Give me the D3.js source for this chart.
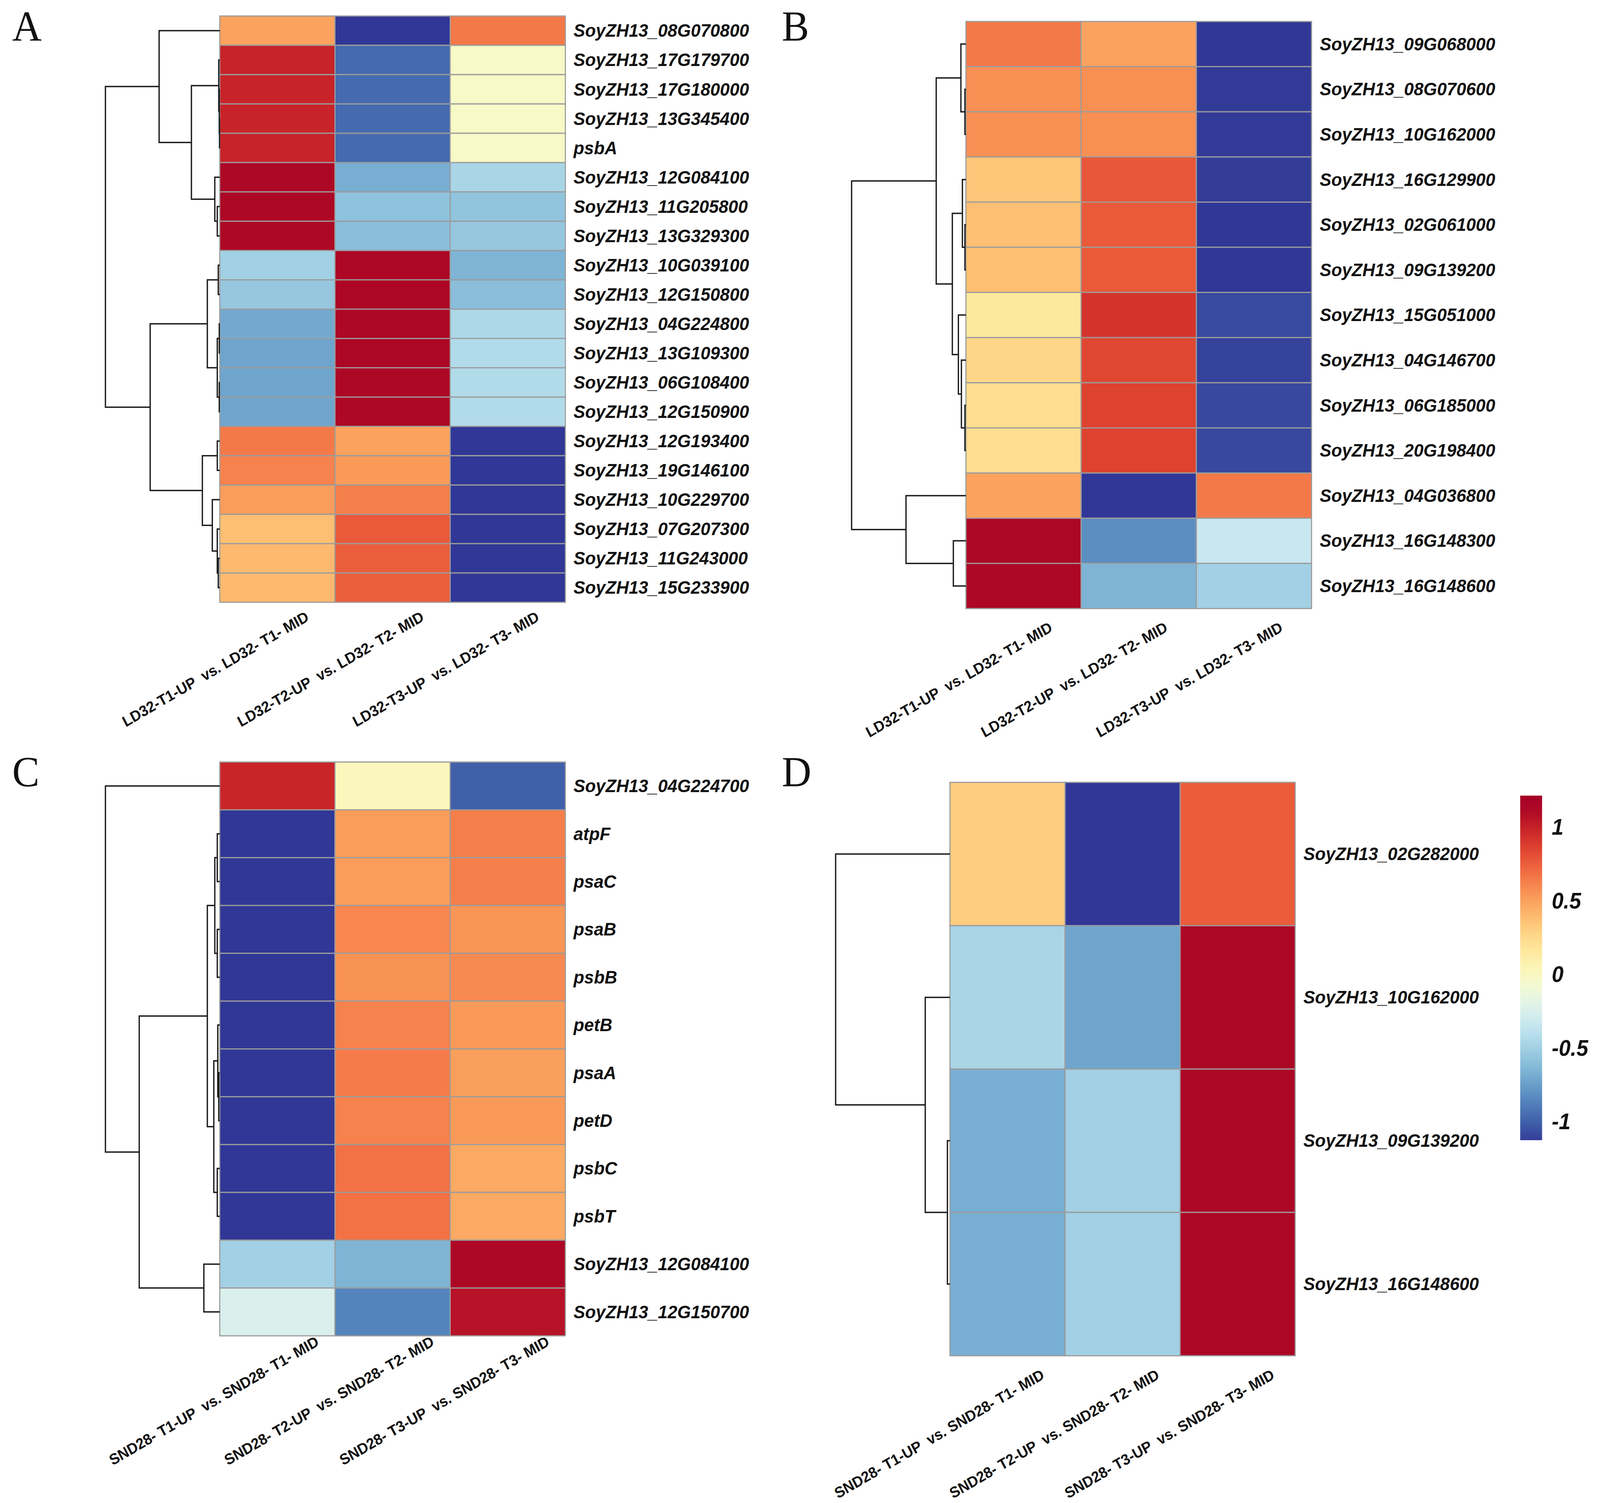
<!DOCTYPE html>
<html><head><meta charset="utf-8">
<script src="https://cdn.jsdelivr.net/npm/d3@7"></script>
<style>html,body{margin:0;padding:0;background:#fff;overflow:hidden;width:100%;height:100%} svg{display:block;width:100vw;height:100vh} text{white-space:pre}</style>
</head><body><svg id="chart"></svg>
<script>
// ---------- DATA ----------
const colsLD = ["LD32-T1-UP  vs. LD32- T1- MID","LD32-T2-UP  vs. LD32- T2- MID","LD32-T3-UP  vs. LD32- T3- MID"];
const colsSND = ["SND28- T1-UP  vs. SND28- T1- MID","SND28- T2-UP  vs. SND28- T2- MID","SND28- T3-UP  vs. SND28- T3- MID"];

const rowsA = ["SoyZH13_08G070800","SoyZH13_17G179700","SoyZH13_17G180000","SoyZH13_13G345400","psbA",
  "SoyZH13_12G084100","SoyZH13_11G205800","SoyZH13_13G329300","SoyZH13_10G039100","SoyZH13_12G150800",
  "SoyZH13_04G224800","SoyZH13_13G109300","SoyZH13_06G108400","SoyZH13_12G150900","SoyZH13_12G193400",
  "SoyZH13_19G146100","SoyZH13_10G229700","SoyZH13_07G207300","SoyZH13_11G243000","SoyZH13_15G233900"];
const valuesA = [
  [0.50,-1.15,0.65],[0.99,-0.96,-0.03],[0.99,-0.96,-0.03],[0.99,-0.96,-0.03],[0.99,-0.96,-0.03],
  [1.12,-0.68,-0.47],[1.12,-0.58,-0.57],[1.12,-0.60,-0.55],[-0.50,1.12,-0.65],[-0.55,1.12,-0.60],
  [-0.70,1.12,-0.45],[-0.72,1.12,-0.43],[-0.72,1.12,-0.43],[-0.72,1.12,-0.43],[0.65,0.50,-1.15],
  [0.62,0.53,-1.15],[0.52,0.63,-1.15],[0.38,0.77,-1.15],[0.40,0.75,-1.15],[0.40,0.75,-1.15]];
// hclust-style merges: negative = leaf (1-based row), positive = earlier merge; third = height
const mergesA = [
  [-4,-5,0.005],[-3,1,0.01],[-2,2,0.02],[-7,-8,0.05],[-6,4,0.10],[3,5,0.57],[-1,6,1.22],
  [-9,-10,0.03],[-11,-12,0.01],[-13,-14,0.01],[9,10,0.05],[8,11,0.25],
  [-15,-16,0.05],[-19,-20,0.03],[-18,14,0.05],[-17,15,0.15],[13,16,0.35],
  [12,17,1.40],[7,18,2.30]];

const rowsB = ["SoyZH13_09G068000","SoyZH13_08G070600","SoyZH13_10G162000","SoyZH13_16G129900","SoyZH13_02G061000",
  "SoyZH13_09G139200","SoyZH13_15G051000","SoyZH13_04G146700","SoyZH13_06G185000","SoyZH13_20G198400",
  "SoyZH13_04G036800","SoyZH13_16G148300","SoyZH13_16G148600"];
const valuesB = [
  [0.65,0.50,-1.15],[0.57,0.57,-1.14],[0.57,0.57,-1.14],[0.35,0.78,-1.13],[0.38,0.77,-1.15],
  [0.38,0.77,-1.15],[0.16,0.92,-1.08],[0.27,0.84,-1.11],[0.23,0.86,-1.09],[0.23,0.86,-1.09],
  [0.50,-1.15,0.65],[1.12,-0.82,-0.33],[1.12,-0.65,-0.50]];
const mergesB = [
  [-2,-3,0.02],[-1,1,0.10],[-5,-6,0.02],[-4,3,0.07],[-9,-10,0.02],[-8,5,0.09],[-7,6,0.15],
  [4,7,0.27],[2,8,0.59],[-12,-13,0.25],[-11,10,1.19],[9,11,2.27]];

const rowsC = ["SoyZH13_04G224700","atpF","psaC","psaB","psbB","petB","psaA","petD","psbC","psbT",
  "SoyZH13_12G084100","SoyZH13_12G150700"];
const valuesC = [
  [0.98,0.02,-1.00],[-1.15,0.52,0.63],[-1.15,0.52,0.63],[-1.15,0.60,0.55],[-1.15,0.56,0.59],
  [-1.15,0.62,0.53],[-1.15,0.64,0.51],[-1.15,0.62,0.53],[-1.15,0.68,0.47],[-1.15,0.68,0.47],
  [-0.50,-0.65,1.12],[-0.24,-0.86,1.07]];
const mergesC = [
  [-2,-3,0.05],[-4,-5,0.05],[1,2,0.10],[-7,-8,0.02],[-6,4,0.04],[-9,-10,0.05],[5,6,0.12],
  [3,7,0.25],[-11,-12,0.32],[8,9,1.62],[-1,10,2.30]];

const rowsD = ["SoyZH13_02G282000","SoyZH13_10G162000","SoyZH13_09G139200","SoyZH13_16G148600"];
const valuesD = [[0.32,-1.15,0.76],[-0.47,-0.72,1.12],[-0.68,-0.50,1.12],[-0.68,-0.50,1.12]];
const mergesD = [[-3,-4,0.05],[-2,1,0.48],[-1,2,2.22]];

const legendTicks = [1,0.5,0,-0.5,-1];
const legendTickLabels = ["1","0.5","0","-0.5","-1"];
const legendExtent = [-1.125,1.215];
const colorDomain = [-1.155,1.155];

// ---------- LAYOUT ----------
const W = 4310, H = 3848;
const treeW = 308;
const panels = [
  {letter:"A", lx:33, ly:104, rows:rowsA, values:valuesA, merges:mergesA, cols:colsLD, x0:592, x1:1523, y0:41, y1:1542, lab:[-167,171]},
  {letter:"B", lx:2106, ly:104, rows:rowsB, values:valuesB, merges:mergesB, cols:colsLD, x0:2602, x1:3533, y0:55, y1:1558, lab:[-174,182]},
  {letter:"C", lx:33, ly:2013, rows:rowsC, values:valuesC, merges:mergesC, cols:colsSND, x0:592, x1:1523, y0:1951, y1:3420, lab:[-171,166]},
  {letter:"D", lx:2106, ly:2013, rows:rowsD, values:valuesD, merges:mergesD, cols:colsSND, x0:2559, x1:3489, y0:2003, y1:3471, lab:[-184,200]}
];

const svg = d3.select("#chart").attr("viewBox",`0 0 ${W} ${H}`).attr("preserveAspectRatio","none");
svg.append("rect").attr("width",W).attr("height",H).attr("fill","#fff");

const color = d3.scaleSequential(d3.interpolateRdYlBu).domain([colorDomain[1],colorDomain[0]]).clamp(true);

panels.forEach(p => {
  const g = svg.append("g");
  const xS = d3.scaleBand().domain(p.cols).range([p.x0,p.x1]);
  const yS = d3.scaleBand().domain(p.rows).range([p.y0,p.y1]);
  const cells = [];
  p.rows.forEach((r,i)=>p.cols.forEach((c,j)=>cells.push({r,c,v:p.values[i][j]})));
  g.selectAll("rect.cell").data(cells).join("rect")
    .attr("x",d=>xS(d.c)).attr("y",d=>yS(d.r))
    .attr("width",xS.bandwidth()).attr("height",yS.bandwidth())
    .attr("fill",d=>color(d.v)).attr("stroke","#9c9c9c").attr("stroke-width",3);

  // row labels
  g.selectAll("text.row").data(p.rows).join("text")
    .attr("x",p.x1+22).attr("y",d=>yS(d)+yS.bandwidth()/2)
    .attr("dominant-baseline","central")
    .attr("font-family","'Liberation Sans', Arial, sans-serif")
    .attr("font-weight","bold").attr("font-style","italic").attr("font-size",47)
    .attr("fill","#111").text(d=>d);

  // column labels
  g.selectAll("text.col").data(p.cols).join("text")
    .attr("transform",d=>{const cx=xS(d)+xS.bandwidth()/2+p.lab[0], cy=p.y1+p.lab[1]; return `translate(${cx},${cy}) rotate(-29)`;})
    .attr("text-anchor","middle").attr("dominant-baseline","central")
    .attr("font-family","'Liberation Sans', Arial, sans-serif")
    .attr("font-weight","bold").attr("font-size",39).attr("fill","#111").text(d=>d);

  // dendrogram
  const maxH = d3.max(p.merges,m=>m[2]);
  const hS = d3.scaleLinear().domain([0,maxH]).range([p.x0,p.x0-treeW]);
  const nodes = [];
  const pos = i => i<0 ? {x:hS(0), y:yS(p.rows[-i-1])+yS.bandwidth()/2} : nodes[i-1];
  const paths = [];
  p.merges.forEach(m=>{
    const a=pos(m[0]), b=pos(m[1]); const x=hS(m[2]);
    nodes.push({x, y:(a.y+b.y)/2});
    paths.push(`M${a.x},${a.y}H${x}V${b.y}H${b.x}`);
  });
  g.selectAll("path.tree").data(paths).join("path")
    .attr("d",d=>d).attr("fill","none").attr("stroke","#1a1a1a").attr("stroke-width",3.5);

  // panel letter
  g.append("text").attr("x",p.lx).attr("y",p.ly)
    .attr("font-family","'Liberation Serif','Times New Roman',serif").attr("font-size",110)
    .attr("fill","#111").text(p.letter);
});

// legend
const lx0 = 4095, lw = 59;
const lyS = d3.scaleLinear().domain([-1,1]).range([2872,2118]);
const defs = svg.append("defs");
const grad = defs.append("linearGradient").attr("id","lg").attr("x1",0).attr("y1",1).attr("x2",0).attr("y2",0);
d3.range(0,1.0001,0.05).forEach(t=>{
  const v = legendExtent[0] + t*(legendExtent[1]-legendExtent[0]);
  grad.append("stop").attr("offset",t).attr("stop-color",color(v));
});
svg.append("rect").attr("x",lx0).attr("y",lyS(legendExtent[1])).attr("width",lw)
  .attr("height",lyS(legendExtent[0])-lyS(legendExtent[1])).attr("fill","url(#lg)");
svg.selectAll("text.leg").data(legendTicks).join("text")
  .attr("x",4180).attr("y",d=>lyS(d)).attr("dominant-baseline","central")
  .attr("font-family","'Liberation Sans', Arial, sans-serif")
  .attr("font-weight","bold").attr("font-style","italic").attr("font-size",57).attr("fill","#111")
  .text((d,i)=>legendTickLabels[i]);
</script></body></html>
